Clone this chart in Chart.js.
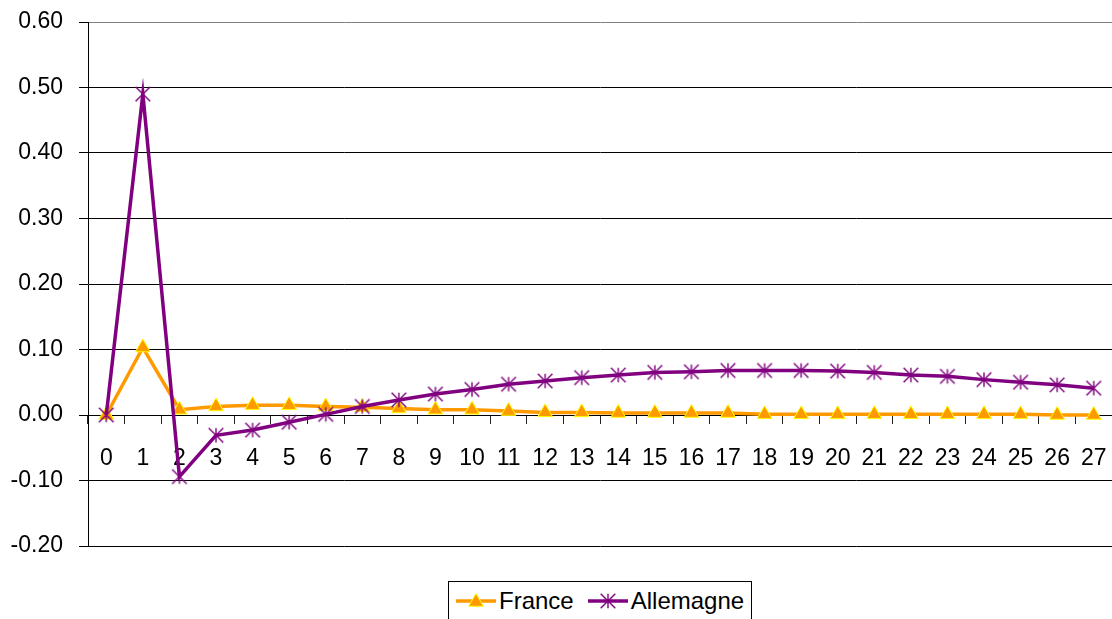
<!DOCTYPE html>
<html lang="fr">
<head>
<meta charset="UTF-8">
<title>France / Allemagne</title>
<style>
  html, body { margin: 0; padding: 0; background: #fff; overflow: hidden; }
  #wrap { position: relative; width: 1112px; height: 619px; overflow: hidden; }
  #legend {
    position: absolute;
    box-sizing: border-box;
    height: 46px;
    border: 1px solid #000;
    display: flex;
    align-items: center;
    justify-content: center;
    padding-bottom: 6px;
    font: 24px 'Liberation Sans', Arial, sans-serif;
    color: #000;
    background: #fff;
  }
  #legend .item { display: flex; align-items: center; margin: 0 7px; }
  #legend canvas { margin-right: 3px; }
</style>
</head>
<body>
<div id="wrap">
  <canvas id="myChart" width="1112" height="619"></canvas>
  <div id="legend"></div>
</div>

<script src="https://cdn.jsdelivr.net/npm/chart.js"></script>
<script>
  const periods = ['0','1','2','3','4','5','6','7','8','9','10','11','12','13','14','15','16','17','18','19','20','21','22','23','24','25','26','27'];

  const france = [0.000, 0.103, 0.008, 0.013, 0.015, 0.015, 0.013, 0.012, 0.010, 0.008,
                  0.008, 0.006, 0.004, 0.004, 0.003, 0.003, 0.003, 0.003, 0.001, 0.001,
                  0.001, 0.001, 0.001, 0.001, 0.001, 0.001, 0.000, 0.000];

  const allemagne = [0.000, 0.490, -0.094, -0.031, -0.023, -0.011, 0.001, 0.013, 0.023, 0.032,
                     0.039, 0.047, 0.052, 0.057, 0.061, 0.065, 0.066, 0.068, 0.068, 0.068,
                     0.067, 0.065, 0.061, 0.059, 0.054, 0.050, 0.046, 0.041];

  const yMin = -0.2, yMax = 0.6, yStep = 0.1;

  const ORANGE = '#FF9900';
  const YELLOW = '#FFFF00';
  const PURPLE = '#800080';
  const FONT = 'Liberation Sans, Arial, sans-serif';

  // asterisk marker: vertical bar plus two diagonals
  function drawStar(ctx, cx, cy, r) {
    ctx.strokeStyle = PURPLE;
    ctx.lineWidth = 1.4;
    ctx.beginPath();
    ctx.moveTo(cx, cy - r); ctx.lineTo(cx, cy + r);
    ctx.moveTo(cx - r, cy - r); ctx.lineTo(cx + r, cy + r);
    ctx.moveTo(cx + r, cy - r); ctx.lineTo(cx - r, cy + r);
    ctx.stroke();
  }

  function makeStar() {
    const c = document.createElement('canvas');
    c.width = 18; c.height = 18;
    drawStar(c.getContext('2d'), 9, 9, 7.3);
    return c;
  }

  function drawTri(ctx, cx, cy, r) {
    const h = r * 1.5, w = r * 0.866;
    ctx.beginPath();
    ctx.moveTo(cx, cy - r);
    ctx.lineTo(cx + w, cy + h - r);
    ctx.lineTo(cx - w, cy + h - r);
    ctx.closePath();
    ctx.fillStyle = ORANGE;
    ctx.fill();
    ctx.strokeStyle = YELLOW;
    ctx.lineWidth = 1;
    ctx.stroke();
  }

  // legend swatch: line segment with the marker in the middle
  function makeLegendIcon(kind) {
    const c = document.createElement('canvas');
    c.width = 40; c.height = 22;
    const ctx = c.getContext('2d');
    ctx.strokeStyle = kind === 'tri' ? ORANGE : PURPLE;
    ctx.lineWidth = 3.5;
    ctx.beginPath();
    ctx.moveTo(0, 11); ctx.lineTo(40, 11);
    ctx.stroke();
    if (kind === 'tri') drawTri(ctx, 20, 12, 8.5);
    else drawStar(ctx, 20, 11, 7.3);
    return c;
  }

  const starImg = makeStar();

  const chart = new Chart(document.getElementById('myChart'), {
    type: 'line',
    data: {
      labels: periods,
      datasets: [{
        label: 'France',
        data: france,
        borderColor: ORANGE,
        borderWidth: 3.5,
        backgroundColor: ORANGE,
        pointStyle: 'triangle',
        pointRadius: 8.5,
        pointBackgroundColor: ORANGE,
        pointBorderColor: YELLOW,
        pointBorderWidth: 1,
        tension: 0,
        order: 1
      },
      {
        label: 'Allemagne',
        data: allemagne,
        borderColor: PURPLE,
        borderWidth: 3.5,
        backgroundColor: PURPLE,
        pointStyle: starImg,
        pointRadius: 7,
        tension: 0,
        order: 0
      }]
    },
    options: {
      responsive: false,
      animation: false,
      events: [],
      layout: { autoPadding: false, padding: { left: 10, right: -1, top: 22, bottom: 73 } },
      plugins: {
        tooltip: { enabled: false },
        legend: { display: false }
      },
      scales: {
        x: {
          type: 'category',
          position: { y: 0 },
          offset: true,
          border: { display: true, color: '#000', width: 1 },
          grid: {
            drawOnChartArea: false,
            drawTicks: true,
            tickLength: 8,
            tickColor: '#222',
            offset: true
          },
          ticks: {
            color: '#000',
            font: { family: FONT, size: 23 },
            padding: 22,
            maxRotation: 0,
            autoSkip: false
          },
          afterFit(scale) {
            scale.paddingLeft = 0;
            scale.paddingRight = 0;
          }
        },
        y: {
          min: yMin,
          max: yMax,
          border: { display: true, color: '#000', width: 1 },
          grid: {
            color: ctx => (ctx.tick && ctx.tick.value > yMax - yStep / 2) ? '#808080' : '#000',
            tickColor: '#000',
            tickLength: 9,
            lineWidth: 1
          },
          ticks: {
            stepSize: yStep,
            color: '#000',
            font: { family: FONT, size: 23 },
            padding: 16,
            callback: v => Number(v).toFixed(2)
          },
          afterFit(scale) {
            scale.width = 78;
            scale.paddingTop = 0;
            scale.paddingBottom = 0;
          }
        }
      }
    }
  });

  // legend built from the datasets, framed and centred under the plot
  const icons = ['tri', 'star'];
  const legend = document.getElementById('legend');
  chart.data.datasets.forEach((ds, i) => {
    const item = document.createElement('span');
    item.className = 'item';
    item.appendChild(makeLegendIcon(icons[i]));
    const txt = document.createElement('span');
    txt.textContent = ds.label;
    item.appendChild(txt);
    legend.appendChild(item);
  });
  const area = chart.chartArea;
  legend.style.top = (area.bottom + 35) + 'px';
  legend.style.left = Math.round((area.left + area.right) / 2 - legend.offsetWidth / 2) + 'px';
</script>
</body>
</html>
